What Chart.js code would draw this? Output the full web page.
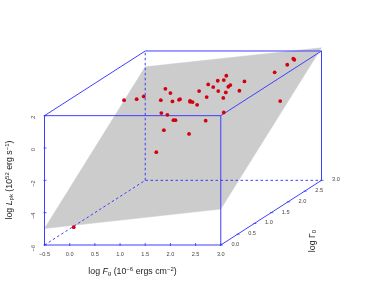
<!DOCTYPE html>
<html><head><meta charset="utf-8">
<style>html,body{margin:0;padding:0;background:#fff}#w{width:374px;height:307px;position:relative}</style>
<script src="https://cdn.jsdelivr.net/npm/chart.js@4"></script></head>
<body><div id="w"><canvas id="c" width="374" height="307"></canvas></div>
<script>
// Projected positions, in axis units of the front face
const pointX=[1.08,1.33,1.47,1.81,1.90,2.00,2.04,2.17,2.19,2.39,2.39,2.44,2.53,2.57,2.75,2.72,2.85,2.94,3.06,3.11,3.15,3.19,2.95,3.10,3.05,3.37,3.47,1.82,1.94,2.06,2.10,1.87,2.37,1.72,2.70,3.06,4.07,4.32,4.44,4.46,4.18,0.08];
const pointY=[2.96,3.02,3.19,2.96,3.66,3.40,2.88,2.98,3.02,2.92,2.86,2.84,2.67,3.52,3.93,3.15,3.77,4.16,4.20,4.47,3.79,3.89,3.52,3.44,3.10,3.54,4.12,2.16,2.05,1.72,1.72,1.10,0.87,-0.26,1.69,2.20,4.68,5.15,5.52,5.46,2.90,-4.90];
const planeX=[-0.5,3,5,1.5,-0.5];
const planeY=[-4.98,-3.78,6.2,5.02,-4.98];
const solidX=[-0.5,3,3,-0.5,-0.5,null,-0.5,1.5,5,3,null,5,5,3];
const solidY=[-6,-6,2,2,-6,null,2,6,6,2,null,6,-2,-6];
const dashX=[-0.5,1.5,5,null,1.5,1.5];
const dashY=[-6,-2,-2,null,-2,6];
const xTicks=[-0.5,0,0.5,1,1.5,2,2.5,3];
const yTicks=[-6,-4,-2,0,2];
const depthTicks=[0,0.5,1,1.5,2,2.5,3];
const FONT='"Liberation Sans", Arial, sans-serif';
const zip=(a,b)=>a.map((v,i)=>({x:v,y:b[i]}));

const extras={id:'extras',afterDraw(ch){
  const c=ch.ctx,X=ch.scales.x,Y=ch.scales.y;
  c.save();
  c.strokeStyle='#3333ff';c.lineWidth=0.8;
  c.beginPath();
  xTicks.forEach(t=>{const p=X.getPixelForValue(t);c.moveTo(p,Y.getPixelForValue(-6)+1);c.lineTo(p,Y.getPixelForValue(-6)-2);});
  yTicks.forEach(t=>{const p=Y.getPixelForValue(t);c.moveTo(X.getPixelForValue(-0.5)-1,p);c.lineTo(X.getPixelForValue(-0.5)+2,p);});
  depthTicks.forEach(d=>{const px=X.getPixelForValue(3+d*2/3),py=Y.getPixelForValue(-6+d*4/3);c.moveTo(px-1,py);c.lineTo(px+2,py);});
  c.stroke();
  c.fillStyle='#444';c.font='5.6px '+FONT;c.textAlign='center';c.textBaseline='middle';
  depthTicks.forEach(d=>{c.fillText(d.toFixed(1),X.getPixelForValue(3+d*2/3)+14.5,Y.getPixelForValue(-6+d*4/3)-0.5);});
  rich(c,[['log ',0],['F',1],['g',2],[' (10',0],['\u22126',3],[' ergs cm',0],['\u22122',3],[')',0]],132.5,272,0);
  rich(c,[['log ',0],['L',1],['pk',2],[' (10',0],['52',3],[' erg s',0],['\u22121',3],[')',0]],10,180,-Math.PI/2);
  rich(c,[['log \u0393',0],['0',2]],313,241,-Math.PI/2);
  c.restore();
}};
function rich(c,segs,x,y,rot){
  const fonts=['8.8px '+FONT,'italic 8.8px '+FONT,'6px '+FONT,'6px '+FONT];
  const dy=[0,0,1.8,-3];
  let w=0;segs.forEach(s=>{c.font=fonts[s[1]];w+=c.measureText(s[0]).width;});
  c.save();c.translate(x,y);c.rotate(rot);c.fillStyle='#222';c.textAlign='left';c.textBaseline='middle';
  let p=-w/2;segs.forEach(s=>{c.font=fonts[s[1]];c.fillText(s[0],p,dy[s[1]]);p+=c.measureText(s[0]).width;});
  c.restore();
}

new Chart(document.getElementById('c'),{
  type:'scatter',
  data:{datasets:[
    {label:'plane',data:zip(planeX,planeY),showLine:true,fill:'shape',backgroundColor:'#cccccc',borderColor:'#cccccc',borderWidth:0.5,pointRadius:0,tension:0,order:4,clip:false},
    {label:'dash',data:zip(dashX,dashY),showLine:true,fill:false,borderColor:'#2a2aff',borderWidth:0.9,borderDash:[2.5,2.5],pointRadius:0,spanGaps:false,tension:0,order:3,clip:false},
    {label:'box',data:zip(solidX,solidY),showLine:true,fill:false,borderColor:'#3f3fff',borderWidth:1,pointRadius:0,spanGaps:false,tension:0,order:2,clip:false},
    {label:'points',data:zip(pointX,pointY),backgroundColor:'#d40010',borderWidth:0,pointRadius:1.9,order:1,clip:false}
  ]},
  options:{
    responsive:false,animation:false,devicePixelRatio:1,
    layout:{padding:{top:34.83,right:52.5,left:0,bottom:0}},
    plugins:{legend:{display:false},tooltip:{enabled:false}},
    scales:{
      x:{type:'linear',min:-0.5,max:5,
        afterBuildTicks(s){s.ticks=xTicks.map(v=>({value:v}));},
        afterFit(s){s.height=62;},
        grid:{display:false,drawTicks:false},border:{display:false},
        ticks:{padding:6,autoSkip:false,maxRotation:0,minRotation:0,color:'#444',font:{family:FONT,size:5.6},callback:v=>v.toFixed(1).replace('-','\u2212')}},
      y:{type:'linear',min:-6,max:7,
        afterBuildTicks(s){s.ticks=yTicks.map(v=>({value:v}));},
        afterFit(s){s.width=44.5;},
        grid:{display:false,drawTicks:false},border:{display:false},
        ticks:{padding:11,autoSkip:false,minRotation:90,maxRotation:90,color:'#444',font:{family:FONT,size:5.6},callback:v=>String(v).replace('-','\u2212')}}
    }
  },
  plugins:[extras]
});
</script></body></html>
